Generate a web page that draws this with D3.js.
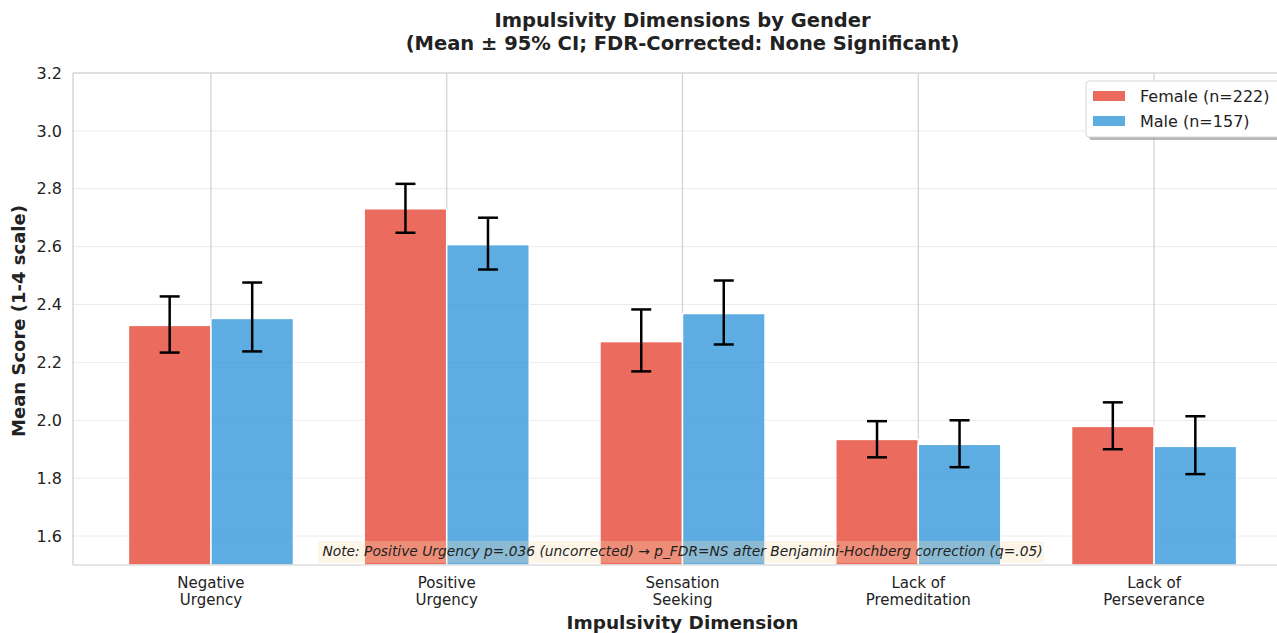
<!DOCTYPE html>
<html>
<head>
<meta charset="utf-8">
<script src="https://cdn.jsdelivr.net/npm/d3@7"></script>
<style>
  body { margin: 0; background: #fff; }
  text { font-family: "DejaVu Sans", sans-serif; fill: #222; }
</style>
</head>
<body>
<div id="chart"></div>
<script>
// data
let categories = ["Negative\nUrgency", "Positive\nUrgency", "Sensation\nSeeking", "Lack of\nPremeditation", "Lack of\nPerseverance"];
let femaleMean = [2.328, 2.731, 2.272, 1.934, 1.979];
let femaleLow  = [2.234, 2.648, 2.169, 1.872, 1.900];
let femaleHigh = [2.428, 2.817, 2.383, 1.997, 2.062];
let maleMean = [2.352, 2.607, 2.369, 1.917, 1.910];
let maleLow  = [2.238, 2.521, 2.262, 1.838, 1.814];
let maleHigh = [2.476, 2.700, 2.483, 2.000, 2.014];
let yTicks = [1.6, 1.8, 2.0, 2.2, 2.4, 2.6, 2.8, 3.0, 3.2];
let seriesNames = ["Female (n=222)", "Male (n=157)"];

let svgWidth = 1277;
let svgHeight = 633;
let plot = { left: 73, right: 1292, top: 73, bottom: 565 };

let svg = d3.select("#chart")
    .append("svg")
    .attr("width", svgWidth)
    .attr("height", svgHeight);

// scales (bars at i -/+ 0.175, width 0.35, like matplotlib)
let barW = 0.35;
let x = d3.scaleLinear().domain([-0.585, 4.585]).range([plot.left, plot.right]);
let y = d3.scaleLinear().domain([1.5, 3.2]).range([plot.bottom, plot.top]);

let colors = ["#e74c3c", "#3498db"];
let opac = [0.82, 0.8];

// grid
svg.append("g").selectAll("line")
    .data(yTicks)
    .join("line")
    .attr("x1", plot.left).attr("x2", plot.right)
    .attr("y1", d => y(d)).attr("y2", d => y(d))
    .attr("stroke", "#ebebeb").attr("stroke-width", 1);

svg.append("g").selectAll("line")
    .data(categories)
    .join("line")
    .attr("x1", (d, i) => x(i)).attr("x2", (d, i) => x(i))
    .attr("y1", plot.top).attr("y2", plot.bottom)
    .attr("stroke", "#d0d0d0").attr("stroke-width", 1.2);

// bars
let series = [
    { mean: femaleMean, low: femaleLow, high: femaleHigh, off: -barW / 2 },
    { mean: maleMean, low: maleLow, high: maleHigh, off: barW / 2 }
];

series.forEach((s, k) => {
    svg.append("g").selectAll("rect")
        .data(s.mean)
        .join("rect")
        .attr("x", (d, i) => x(i + s.off - barW / 2))
        .attr("width", x(barW) - x(0))
        .attr("y", d => y(d))
        .attr("height", d => plot.bottom - y(d))
        .attr("fill", colors[k])
        .attr("fill-opacity", opac[k])
        .attr("stroke", "#fff")
        .attr("stroke-width", 1.5);
});

// error bars
series.forEach(s => {
    let g = svg.append("g").attr("stroke", "#000").attr("stroke-width", 2.5);
    s.mean.forEach((d, i) => {
        let cx = x(i + s.off);
        g.append("line").attr("x1", cx).attr("x2", cx).attr("y1", y(s.low[i])).attr("y2", y(s.high[i]));
        g.append("line").attr("x1", cx - 10).attr("x2", cx + 10).attr("y1", y(s.low[i])).attr("y2", y(s.low[i]));
        g.append("line").attr("x1", cx - 10).attr("x2", cx + 10).attr("y1", y(s.high[i])).attr("y2", y(s.high[i]));
    });
});

// spines
svg.append("line").attr("x1", plot.left).attr("x2", plot.left)
    .attr("y1", plot.top).attr("y2", plot.bottom).attr("stroke", "#ccc").attr("stroke-width", 1.2);
svg.append("line").attr("x1", plot.left).attr("x2", plot.right)
    .attr("y1", plot.bottom).attr("y2", plot.bottom).attr("stroke", "#ccc").attr("stroke-width", 1.2);
svg.append("line").attr("x1", plot.left).attr("x2", plot.right)
    .attr("y1", plot.top).attr("y2", plot.top).attr("stroke", "#ccc").attr("stroke-width", 1.2);

// y axis ticks
let leftAxis = d3.axisLeft(y).tickValues(yTicks).tickFormat(d3.format(".1f")).tickSize(0).tickPadding(11);
let yAxisG = svg.append("g").attr("transform", `translate(${plot.left},0)`).call(leftAxis);
yAxisG.select(".domain").remove();
yAxisG.selectAll("text").style("font-size", "16px").attr("fill", "#222");

// x tick labels (two lines)
let xl = svg.append("g").selectAll("text")
    .data(categories)
    .join("text")
    .attr("x", (d, i) => x(i))
    .attr("y", 588)
    .attr("text-anchor", "middle")
    .style("font-size", "15px");
xl.each(function (d) {
    let lines = d.split("\n");
    d3.select(this).selectAll("tspan")
        .data(lines)
        .join("tspan")
        .attr("x", d3.select(this).attr("x"))
        .attr("dy", (l, j) => j === 0 ? 0 : 17)
        .text(l => l);
});

// axis labels
svg.append("text")
    .attr("x", x(2)).attr("y", 629)
    .attr("text-anchor", "middle")
    .style("font-size", "18.5px").style("font-weight", "bold")
    .text("Impulsivity Dimension");

svg.append("text")
    .attr("transform", `translate(25, ${(plot.top + plot.bottom) / 2 + 2}) rotate(-90)`)
    .attr("text-anchor", "middle")
    .style("font-size", "18px").style("font-weight", "bold")
    .text("Mean Score (1-4 scale)");

// title
svg.append("text")
    .attr("x", x(2)).attr("y", 27)
    .attr("text-anchor", "middle")
    .style("font-size", "19.5px").style("font-weight", "bold")
    .text("Impulsivity Dimensions by Gender");
svg.append("text")
    .attr("x", x(2)).attr("y", 50)
    .attr("text-anchor", "middle")
    .style("font-size", "19.5px").style("font-weight", "bold")
    .text("(Mean ± 95% CI; FDR-Corrected: None Significant)");

// note
let noteG = svg.append("g");
noteG.append("rect")
    .attr("x", 318).attr("y", 541).attr("width", 726).attr("height", 22).attr("rx", 3)
    .attr("fill", "#f5deb3").attr("fill-opacity", 0.3);
noteG.append("text")
    .attr("x", x(2)).attr("y", 556)
    .attr("text-anchor", "middle")
    .style("font-size", "13.8px").style("font-style", "italic")
    .text("Note: Positive Urgency p=.036 (uncorrected) → p_FDR=NS after Benjamini-Hochberg correction (q=.05)");

// legend
let lg = svg.append("g").attr("transform", "translate(1086,81)");
lg.append("rect").attr("x", 3).attr("y", 3).attr("width", 220).attr("height", 56).attr("rx", 3)
    .attr("fill", "#888").attr("fill-opacity", 0.6);
lg.append("rect").attr("x", 0).attr("y", 0).attr("width", 220).attr("height", 56).attr("rx", 3)
    .attr("fill", "#fff").attr("stroke", "#d5d5d5");
seriesNames.forEach((n, k) => {
    lg.append("rect").attr("x", 7).attr("y", 10 + k * 25).attr("width", 32).attr("height", 10)
        .attr("fill", colors[k]).attr("fill-opacity", opac[k]);
    lg.append("text").attr("x", 54).attr("y", 21 + k * 25)
        .style("font-size", "16px").text(n);
});
</script>
</body>
</html>
